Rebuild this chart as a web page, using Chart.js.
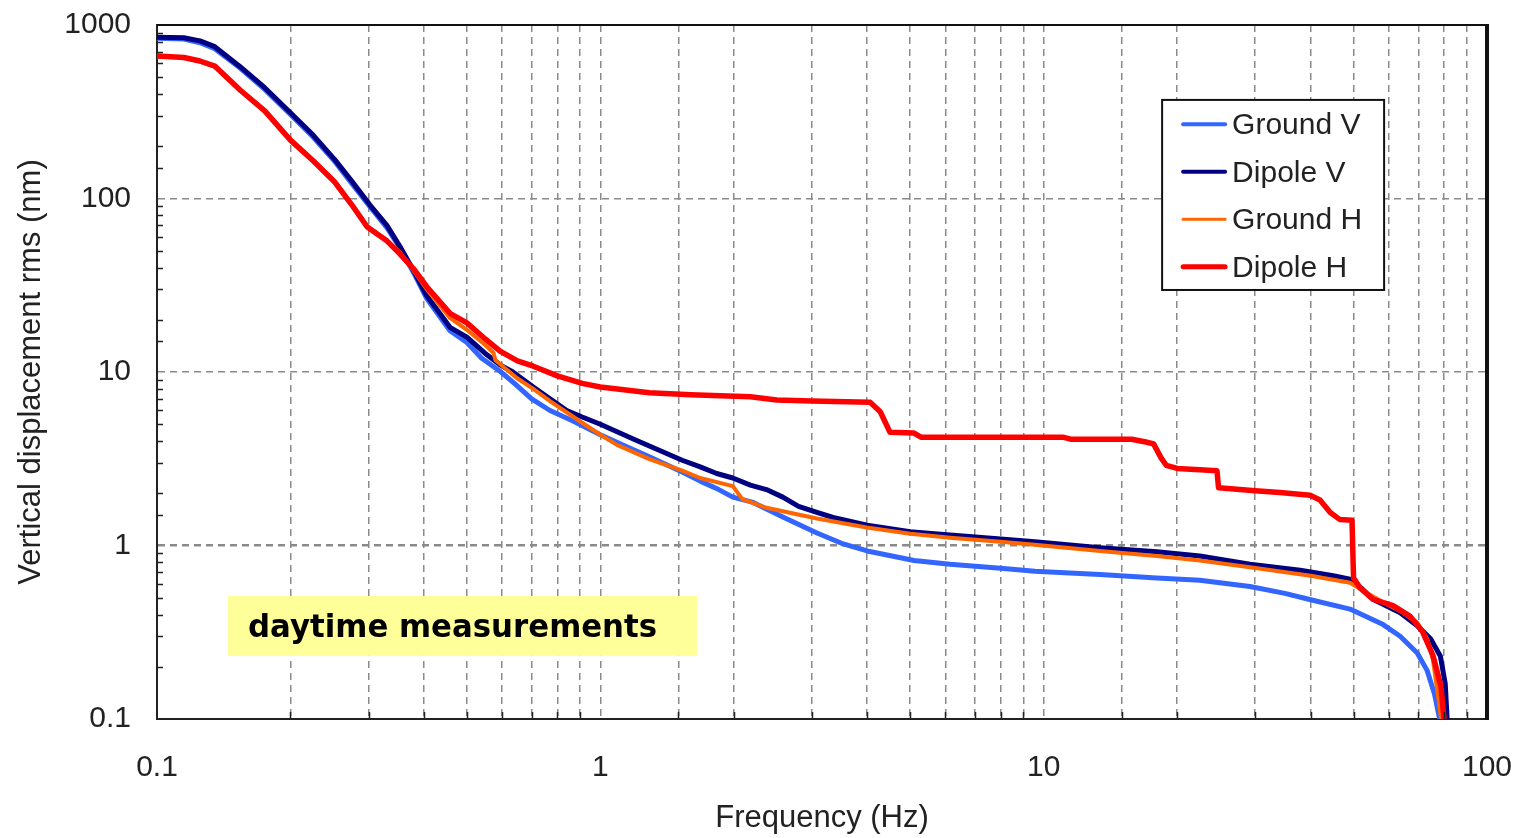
<!DOCTYPE html>
<html><head><meta charset="utf-8">
<script src="https://cdn.jsdelivr.net/npm/chart.js@4"></script>
<style>html,body{margin:0;padding:0;background:#fff;overflow:hidden}</style>
</head><body>
<canvas id="c" width="1517" height="838"></canvas>
<script>
// ---------- DATA ----------
const seriesNames = ['Ground V', 'Dipole V', 'Ground H', 'Dipole H'];

const groundVFreq = [0.1,0.115,0.125,0.135,0.154,0.175,0.2,0.225,0.252,0.275,0.302,0.33,0.353,0.38,0.406,0.458,0.5,0.54,0.594,0.64,0.7,0.77,0.87,1.0,1.15,1.29,1.53,1.68,1.85,1.99,2.2,2.58,3.08,3.5,4.0,5.1,6.15,8,9.55,13.4,18,22.5,29.2,35,39.6,49.1,58.3,63.7,69.6,73.3,76.1,78.2];
const groundVVal  = [840,830,790,730,565,425,305,226,163,122,90,68,52,37,26.5,17.3,14.8,12,10.1,8.6,7.0,6.0,5.2,4.35,3.7,3.25,2.65,2.35,2.1,1.9,1.78,1.46,1.18,1.03,0.93,0.82,0.78,0.74,0.71,0.68,0.65,0.63,0.58,0.53,0.49,0.43,0.35,0.30,0.24,0.19,0.14,0.1];

const dipoleVFreq = [0.1,0.115,0.125,0.135,0.154,0.175,0.2,0.225,0.252,0.275,0.302,0.33,0.353,0.38,0.406,0.458,0.5,0.55,0.594,0.635,0.706,0.77,0.84,0.91,1.0,1.19,1.53,1.68,1.83,1.99,2.18,2.37,2.58,2.8,3.08,3.35,4.0,5.0,6.15,8,9.55,13.4,18,22.5,29.2,37.9,45,49.1,52,55.3,63.7,69.6,74.6,78.5,80.5,81.3];
const dipoleVVal  = [850,845,810,750,575,435,312,232,167,126,92,70,53,38,27.5,18.1,15.9,12.8,11.0,10.0,8.2,7.0,6.0,5.5,5.0,4.1,3.1,2.84,2.6,2.45,2.23,2.1,1.9,1.68,1.55,1.45,1.31,1.2,1.15,1.09,1.05,0.97,0.92,0.87,0.78,0.72,0.67,0.64,0.57,0.49,0.41,0.345,0.29,0.23,0.16,0.1];

const groundHFreq = [0.1,0.115,0.125,0.135,0.154,0.175,0.2,0.225,0.252,0.275,0.298,0.33,0.353,0.38,0.406,0.458,0.5,0.55,0.574,0.58,0.649,0.706,0.77,0.91,1.0,1.09,1.29,1.53,1.68,1.99,2.09,2.37,3.08,3.99,5,6.15,8,9.55,13.4,18,22.5,29.2,40,49.1,58.3,63.7,69.6,73.3,75.5,77,78.8];
const groundHVal  = [665,650,615,575,420,318,218,165,125,92,69,57,49,38,30,20.5,17.5,14.3,12.9,11.7,9.2,8.0,6.8,5.1,4.35,3.8,3.15,2.7,2.45,2.2,1.85,1.65,1.43,1.27,1.17,1.11,1.05,1.01,0.93,0.87,0.82,0.75,0.67,0.61,0.47,0.42,0.36,0.29,0.22,0.155,0.1];

const dipoleHFreq = [0.1,0.115,0.125,0.135,0.154,0.175,0.2,0.225,0.252,0.275,0.298,0.33,0.353,0.38,0.406,0.458,0.5,0.55,0.594,0.65,0.706,0.8,0.91,1.0,1.29,1.6,2.18,2.5,3.0,4.06,4.28,4.5,5.1,5.3,11.1,11.5,15.8,17.0,17.7,18.4,18.9,20,22.5,24.6,24.8,30,34.1,39.9,42,44.3,46.6,49.6,50.0,51.7,55.3,61.4,67.1,71.5,75.5,78.7,80];
const dipoleHVal  = [662,650,620,580,422,320,217,165,124,92,68.5,57,48,39,31,21.8,19.2,15.5,13.2,11.6,10.8,9.5,8.6,8.2,7.6,7.4,7.2,6.9,6.8,6.7,5.9,4.5,4.45,4.2,4.2,4.1,4.1,3.95,3.85,3.2,2.9,2.78,2.73,2.7,2.15,2.07,2.02,1.95,1.83,1.55,1.41,1.40,0.65,0.57,0.49,0.45,0.39,0.32,0.233,0.155,0.1];

const xTickLabels = ['0.1', '1', '10', '100'];
const yTickLabels = ['0.1', '1', '10', '100', '1000'];
const xTitle = 'Frequency (Hz)';
const yTitle = 'Vertical displacement rms (nm)';
const annotationText = 'daytime measurements';

// ---------- STYLE ----------
const FONT = '"Liberation Sans", Arial, sans-serif';
const TEXT = '#222';
const colors = ['#3366ff', '#000080', '#ff6600', '#ff0000'];
const widths = [5, 5, 4, 5.5];
const legendWidths = [4, 4, 3, 5];

const pts = (f, v) => f.map((x, i) => ({x, y: v[i]}));
const fmt = v => String(Number(v.toPrecision(6)));
const isDecade = v => Math.abs(Math.log10(v) - Math.round(Math.log10(v))) < 1e-6;

const datasets = [
  [groundVFreq, groundVVal], [dipoleVFreq, dipoleVVal],
  [groundHFreq, groundHVal], [dipoleHFreq, dipoleHVal]
].map((s, i) => ({
  label: seriesNames[i],
  data: pts(s[0], s[1]),
  borderColor: colors[i],
  backgroundColor: colors[i],
  borderWidth: widths[i],
  pointRadius: 0,
  tension: 0,
  fill: false,
  borderJoinStyle: 'round',
  order: 3 - i
}));

const decorations = {
  id: 'decorations',
  beforeDatasetsDraw(chart) {
    const {ctx, scales: {x, y}} = chart;
    const x0 = x.getPixelForValue(0.1445), x1 = x.getPixelForValue(1.652);
    const y0 = y.getPixelForValue(0.512), y1 = y.getPixelForValue(0.231);
    ctx.save();
    ctx.fillStyle = '#ffff99';
    ctx.fillRect(x0, y0, x1 - x0, y1 - y0);
    ctx.font = 'bold 32px "DejaVu Sans", sans-serif';
    const w = ctx.measureText(annotationText).width;
    const target = (x1 - x0) * 0.872;
    ctx.translate(x0 + (x1 - x0) * 0.043, y0 + (y1 - y0) * 0.68);
    ctx.scale(target / w, 1);
    ctx.fillStyle = '#000';
    ctx.textBaseline = 'alphabetic';
    ctx.fillText(annotationText, 0, 0);
    ctx.restore();
  },
  afterDraw(chart) {
    const {ctx, chartArea: a, scales: {x, y}} = chart;
    ctx.save();
    ctx.strokeStyle = '#222';
    ctx.lineWidth = 1.5;
    ctx.beginPath();
    y.ticks.forEach(t => {
      if (isDecade(t.value)) return;
      const py = Math.round(y.getPixelForValue(t.value)) + 0.5;
      ctx.moveTo(a.left, py); ctx.lineTo(a.left + 6, py);
    });
    x.ticks.forEach(t => {
      if (isDecade(t.value)) return;
      const px = Math.round(x.getPixelForValue(t.value)) + 0.5;
      ctx.moveTo(px, a.bottom); ctx.lineTo(px, a.bottom - 7);
    });
    ctx.stroke();
    ctx.strokeStyle = '#111';
    ctx.lineWidth = 2;
    ctx.beginPath(); ctx.moveTo(a.left, a.top); ctx.lineTo(a.right, a.top); ctx.stroke();
    ctx.lineWidth = 4;
    ctx.beginPath(); ctx.moveTo(a.right, a.top - 1); ctx.lineTo(a.right, a.bottom + 1); ctx.stroke();

    // legend box (anchored in data space of the plot)
    const lx = x.getPixelForValue(18.5), rx = x.getPixelForValue(58.6);
    const ty = y.getPixelForValue(370), by = y.getPixelForValue(29.7);
    ctx.fillStyle = '#fff';
    ctx.fillRect(lx, ty, rx - lx, by - ty);
    ctx.strokeStyle = '#111';
    ctx.lineWidth = 2;
    ctx.strokeRect(lx, ty, rx - lx, by - ty);
    const rowH = (by - ty) / 4;
    ctx.font = '30px ' + FONT;
    ctx.textBaseline = 'middle';
    chart.data.datasets.forEach((d, i) => {
      const cy = ty + rowH * (i + 0.5) + 0.5;
      ctx.strokeStyle = d.borderColor;
      ctx.lineWidth = legendWidths[i];
      ctx.lineCap = 'round';
      ctx.beginPath(); ctx.moveTo(lx + 21, cy); ctx.lineTo(lx + 63, cy); ctx.stroke();
      ctx.fillStyle = TEXT;
      ctx.fillText(d.label, lx + 70, cy + 2);
    });
    ctx.restore();
  }
};

new Chart(document.getElementById('c'), {
  type: 'line',
  data: { datasets },
  plugins: [decorations],
  options: {
    responsive: false,
    animation: false,
    events: [],
    layout: { padding: { top: 25, right: 30, left: 0, bottom: 0 } },
    plugins: { legend: { display: false }, tooltip: { enabled: false } },
    scales: {
      x: {
        type: 'logarithmic',
        min: 0.1, max: 100,
        afterFit: s => { s.height = 119; s.paddingLeft = 0; s.paddingRight = 0; },
        grid: { color: '#8a8a8a', lineWidth: 1.5, drawTicks: false },
        border: { display: true, color: '#222', width: 2, dash: [7, 5] },
        ticks: {
          autoSkip: false, maxRotation: 0, padding: 31,
          color: TEXT, font: { family: FONT, size: 30 },
          callback: v => { const s = fmt(v); return xTickLabels.includes(s) ? s : ''; }
        },
        title: { display: true, text: xTitle, color: TEXT, font: { family: FONT, size: 31 }, padding: { top: 0, bottom: 1 } }
      },
      y: {
        type: 'logarithmic',
        min: 0.1, max: 1000,
        afterFit: s => { s.width = 157; s.paddingTop = 0; s.paddingBottom = 0; },
        grid: {
          color: c => (c.tick && isDecade(c.tick.value)) ? '#8a8a8a' : 'rgba(0,0,0,0)',
          lineWidth: c => (c.tick && isDecade(c.tick.value)) ? (Math.abs(c.tick.value - 1) < 1e-9 ? 2.5 : 1.5) : 0,
          drawTicks: false
        },
        border: { display: true, color: '#222', width: 2, dash: [7, 5] },
        ticks: {
          autoSkip: false, padding: 26,
          color: TEXT, font: { family: FONT, size: 30 },
          callback: v => { const s = fmt(v); return yTickLabels.includes(s) ? s : ''; }
        },
        title: { display: true, text: yTitle, color: TEXT, font: { family: FONT, size: 31 }, padding: { top: 13, bottom: 0 } }
      }
    }
  }
});
</script>
</body></html>
